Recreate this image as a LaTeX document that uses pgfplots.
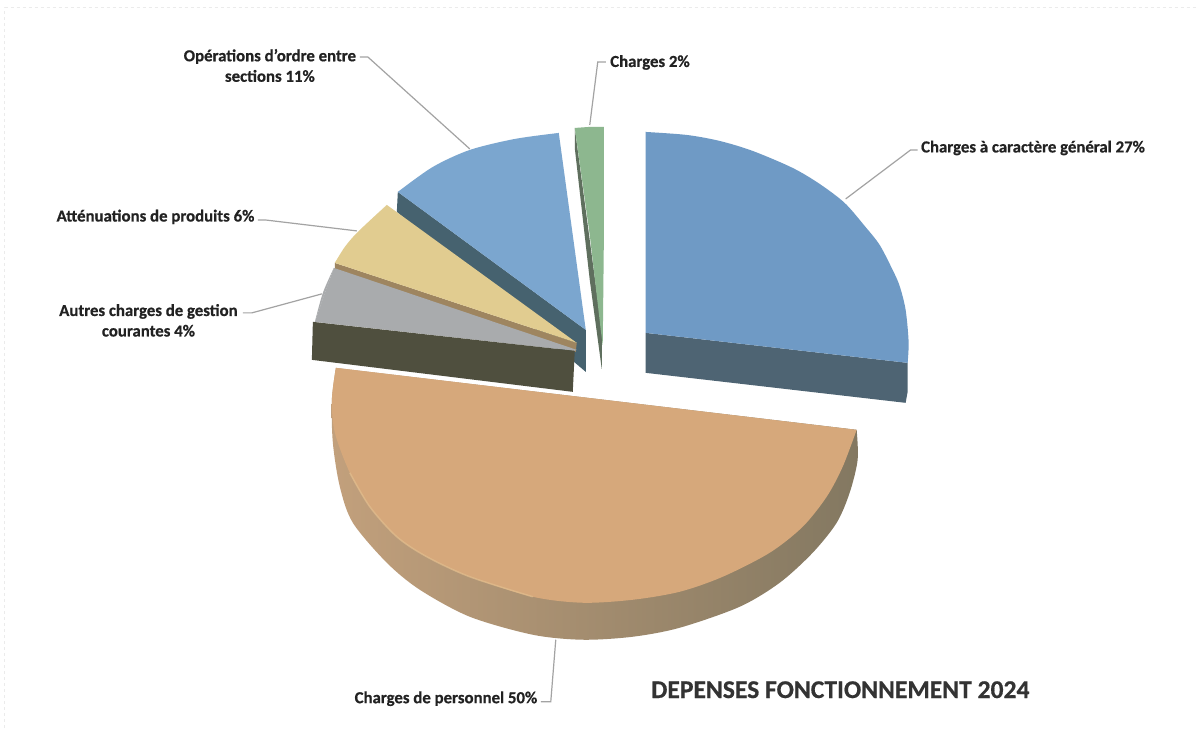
\documentclass[border=0pt]{standalone}
\usepackage{pgfplots}
\pgfplotsset{compat=1.18}
\usepackage{fontspec}
\setmainfont{Carlito}[BoldFeatures={FakeBold=0.6}]
\definecolor{persFace}{HTML}{D6A87B}
\definecolor{persRim}{HTML}{E2BE8E}
\definecolor{persSideL}{HTML}{C2A07C}
\definecolor{persSideM}{HTML}{8F7F66}
\definecolor{persSideR}{HTML}{837861}
\definecolor{genFace}{HTML}{6F9AC5}
\definecolor{genSide}{HTML}{4E6473}
\definecolor{ordFace}{HTML}{7BA6CF}
\definecolor{ordSide}{HTML}{46626F}
\definecolor{chgFace}{HTML}{8DB78F}
\definecolor{chgSide}{HTML}{5F6F5E}
\definecolor{attFace}{HTML}{E1CC90}
\definecolor{attSide}{HTML}{9E8560}
\definecolor{autFace}{HTML}{A9ABAD}
\definecolor{autSide}{HTML}{4F4F3E}
\definecolor{leader}{HTML}{A3A3A3}
\definecolor{lblText}{HTML}{222222}
\definecolor{titleText}{HTML}{333333}
\tikzset{lbl/.style={text=lblText, font=\fontsize{16.8}{20.5}\selectfont\bfseries}}
\begin{document}
\begin{tikzpicture}
\begin{axis}[
  scale only axis, width=1197pt, height=728pt,
  xmin=0, xmax=1197, ymin=0, ymax=728, y dir=reverse,
  hide axis, clip=false,
]
% page extent and faint sheet frame
\addplot[draw=none, fill=white, forget plot] coordinates {(0,0) (1197,0) (1197,728) (0,728)} --cycle;
\addplot[color=black!8, line width=1pt, dashed, forget plot] coordinates {(5,728) (5,8) (1197,8)};

% leader lines
\addplot[leader, line width=1.2pt] coordinates {(360,57) (368,57) (470,149)};
\addplot[leader, line width=1.2pt] coordinates {(606,62) (598,62) (590,125)};
\addplot[leader, line width=1.2pt] coordinates {(918,150) (911,150) (846,199)};
\addplot[leader, line width=1.2pt] coordinates {(258,220) (265,220) (357,231)};
\addplot[leader, line width=1.2pt] coordinates {(243,313) (252,313) (322,294)};
\addplot[leader, line width=1.2pt] coordinates {(541,702) (551,702) (556,640)};

% Charges a caractere general 27%
\addplot[draw=none, fill=genSide] coordinates {(646,333) (908,363) (908,392) (906,403) (646,373)} --cycle;
\addplot[draw=none, fill=genFace, smooth] coordinates {(646,132) (687,135) (720,141) (753,151) (793,168) (820,184) (845,203) (865,226) (880,245) (893,270) (900,286) (906,310) (909,342) (908,363)} --cycle;
\addplot[draw=none, fill=genFace] coordinates {(646,132) (720,150) (793,180) (845,215) (885,270) (908,363) (646,333)} --cycle;

% Charges 2%
\addplot[draw=none, fill=chgSide] coordinates {(575,128) (575,148) (590,280) (602,369) (602,330)} --cycle;
\addplot[draw=none, fill=chgFace] coordinates {(575,128) (589,127) (604,127) (604,250) (603,345) (601,330) (590,235)} --cycle;

% Operations d'ordre entre sections 11%
\addplot[draw=none, fill=ordSide] coordinates {(398,192) (397,212) (586,372) (586,330)} --cycle;
\addplot[draw=none, fill=ordFace, smooth] coordinates {(559,133) (515,139) (470,150) (433,167) (398,192)} --cycle;
\addplot[draw=none, fill=ordFace] coordinates {(559,133) (470,156) (398,192) (586,330)} --cycle;

% Attenuations de produits 6%
\addplot[draw=none, fill=attSide] coordinates {(335,263) (335,270) (576,352) (577,343)} --cycle;
\addplot[draw=none, fill=attFace, smooth] coordinates {(387,205) (358,232) (345,247) (335,263)} --cycle;
\addplot[draw=none, fill=attFace] coordinates {(387,205) (352,240) (335,263) (577,343)} --cycle;

% Autres charges de gestion courantes 4%
\addplot[draw=none, fill=autFace, smooth] coordinates {(334,268) (323,293) (315,322)} --cycle;
\addplot[draw=none, fill=autFace] coordinates {(334,268) (324,296) (315,322) (575,351) (577,350)} --cycle;
\addplot[draw=none, fill=autSide] coordinates {(313,322) (312,360) (573,392) (575,351)} --cycle;

% Charges de personnel 50%
\addplot[draw=none, left color=persSideL, middle color=persSideM, right color=persSideR, smooth] coordinates {(857,430) (858,460) (850,493) (837,523) (813,553) (780,583) (740,607) (680,628) (633,637) (583,640) (533,635) (470,617) (420,590) (387,563) (353,523) (340,487) (333,443) (332,400) (336,368)} --cycle;
\addplot[draw=none, fill=persFace, smooth] coordinates {(857,430) (843,467) (827,497) (803,527) (770,553) (723,577) (680,592) (633,600) (583,603) (533,597) (470,577) (427,557) (397,537) (370,507) (350,473) (335,433) (332,400) (336,368)} --cycle;
\addplot[persRim, line width=1.5pt, opacity=0.7, smooth] coordinates {(350,473) (370,507) (397,537) (427,557) (470,577) (533,597)};

% labels
\node[lbl, align=center] at (axis cs:270,65.5) {Opérations d’ordre entre\\sections 11\%};
\node[lbl, anchor=west] at (axis cs:607,62.5) {Charges 2\%};
\node[lbl, anchor=west] at (axis cs:918,148) {Charges à caractère général 27\%};
\node[lbl, anchor=east] at (axis cs:258,217) {Atténuations de produits 6\%};
\node[lbl, align=center] at (axis cs:148.5,320.5) {Autres charges de gestion\\courantes 4\%};
\node[lbl, anchor=east] at (axis cs:541,699) {Charges de personnel 50\%};
\node[anchor=west, text=titleText, font=\fontsize{25.6}{28}\selectfont\bfseries] at (axis cs:648,690) {DEPENSES FONCTIONNEMENT 2024};
\end{axis}
\end{tikzpicture}
\end{document}
